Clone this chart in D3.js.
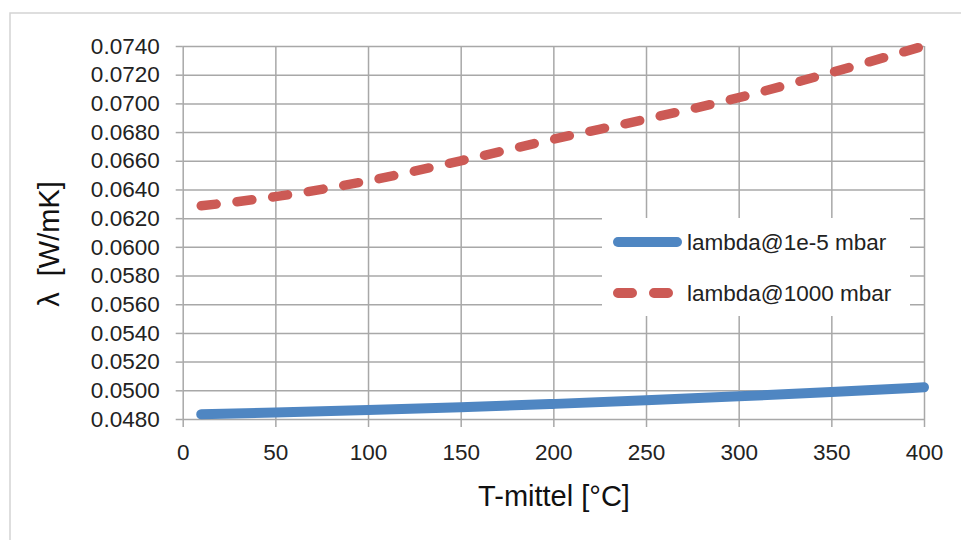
<!DOCTYPE html>
<html lang="de">
<head>
    <meta charset="UTF-8">
    <title>Lambda vs T-mittel</title>
    <script src="https://d3js.org/d3.v7.min.js"></script>
    <style>
        body { margin: 0; background: #fff; }
        text { font-family: "Liberation Sans", Arial, sans-serif; }
    </style>
</head>
<body>
    <svg width="961" height="540"></svg>
    <script>
        // data
        const temps = [10, 50, 100, 150, 200, 250, 300, 350, 400];
        const lambdaVac = [0.04833, 0.04845, 0.04862, 0.04882, 0.04905, 0.04930, 0.04958, 0.04988, 0.05021];
        const lambdaAtm = [0.06286, 0.06350, 0.06460, 0.06600, 0.06750, 0.06890, 0.07040, 0.07215, 0.07400];
        const seriesNames = ["lambda@1e-5 mbar", "lambda@1000 mbar"];
        const xTicks = [0, 50, 100, 150, 200, 250, 300, 350, 400];
        const yTicks = d3.range(0.048, 0.0741, 0.002);

        const svg = d3.select("svg");
        const plotL = 182.7, plotR = 924, plotT = 46, plotB = 419;
        const w = plotR - plotL, h = plotB - plotT;

        // outer chart frame
        svg.append("rect")
            .attr("x", 10).attr("y", 13)
            .attr("width", 1000).attr("height", 600)
            .attr("fill", "none")
            .attr("stroke", "#d4d4d4")
            .attr("stroke-width", 1.5);

        const x = d3.scaleLinear().domain([0, 400]).range([plotL, plotR]);
        const y = d3.scaleLinear().domain([0.048, 0.074]).range([plotB, plotT]);

        // gridlines
        const gx = svg.append("g")
            .attr("transform", `translate(0,${plotT})`)
            .call(d3.axisTop(x).tickValues(xTicks).tickSize(-h).tickFormat(""));
        const gy = svg.append("g")
            .attr("transform", `translate(${plotL},0)`)
            .call(d3.axisLeft(y).tickValues(yTicks).tickSize(-w).tickFormat(""));
        [gx, gy].forEach(g => {
            g.select(".domain").remove();
            g.selectAll("line").attr("stroke", "#a8a8a8").attr("stroke-width", 1.5);
        });

        // labelled axes
        const ax = svg.append("g")
            .attr("transform", `translate(0,${plotB})`)
            .call(d3.axisBottom(x).tickValues(xTicks).tickSize(8).tickPadding(17));
        const ay = svg.append("g")
            .attr("transform", `translate(${plotL},0)`)
            .call(d3.axisLeft(y).tickValues(yTicks).tickSize(7).tickPadding(16).tickFormat(d3.format(".4f")));
        [ax, ay].forEach(g => {
            g.select(".domain").remove();
            g.selectAll("line").attr("stroke", "#a8a8a8").attr("stroke-width", 1.5);
            g.selectAll("text")
                .attr("font-family", "Liberation Sans, Arial, sans-serif")
                .attr("font-size", 22.5)
                .attr("fill", "#222");
        });

        // lines
        const line = d3.line()
            .x((d, i) => x(temps[i]))
            .y(d => y(d))
            .curve(d3.curveMonotoneX);

        svg.append("path")
            .datum(lambdaVac)
            .attr("d", line)
            .attr("fill", "none")
            .attr("stroke", "#4f86c2")
            .attr("stroke-width", 10)
            .attr("stroke-linecap", "round");

        svg.append("path")
            .datum(lambdaAtm)
            .attr("d", line)
            .attr("fill", "none")
            .attr("stroke", "#cc5a55")
            .attr("stroke-width", 9.5)
            .attr("stroke-linecap", "round")
            .attr("stroke-dasharray", "15,21");

        // legend
        const lg = svg.append("g");
        lg.append("rect")
            .attr("x", 602).attr("y", 218)
            .attr("width", 308).attr("height", 98)
            .attr("fill", "#fff");
        const legendItems = [
            { name: seriesNames[0], color: "#4f86c2", dash: null, yPos: 242 },
            { name: seriesNames[1], color: "#cc5a55", dash: "14,22", yPos: 293 }
        ];
        legendItems.forEach(it => {
            lg.append("line")
                .attr("x1", 618).attr("x2", 677)
                .attr("y1", it.yPos).attr("y2", it.yPos)
                .attr("stroke", it.color)
                .attr("stroke-width", 10)
                .attr("stroke-linecap", "round")
                .attr("stroke-dasharray", it.dash);
            lg.append("text")
                .attr("x", 687).attr("y", it.yPos)
                .attr("dy", "0.35em")
                .attr("font-size", 22.5)
                .attr("fill", "#222")
                .text(it.name);
        });

        // axis titles
        svg.append("text")
            .attr("x", 554).attr("y", 506)
            .attr("text-anchor", "middle")
            .attr("font-size", 29)
            .attr("fill", "#111")
            .text("T-mittel [°C]");

        svg.append("text")
            .attr("transform", "translate(59,244) rotate(-90)")
            .attr("text-anchor", "middle")
            .attr("font-size", 29)
            .attr("fill", "#111")
            .style("white-space", "pre")
            .text("λ  [W/mK]");
    </script>
</body>
</html>
